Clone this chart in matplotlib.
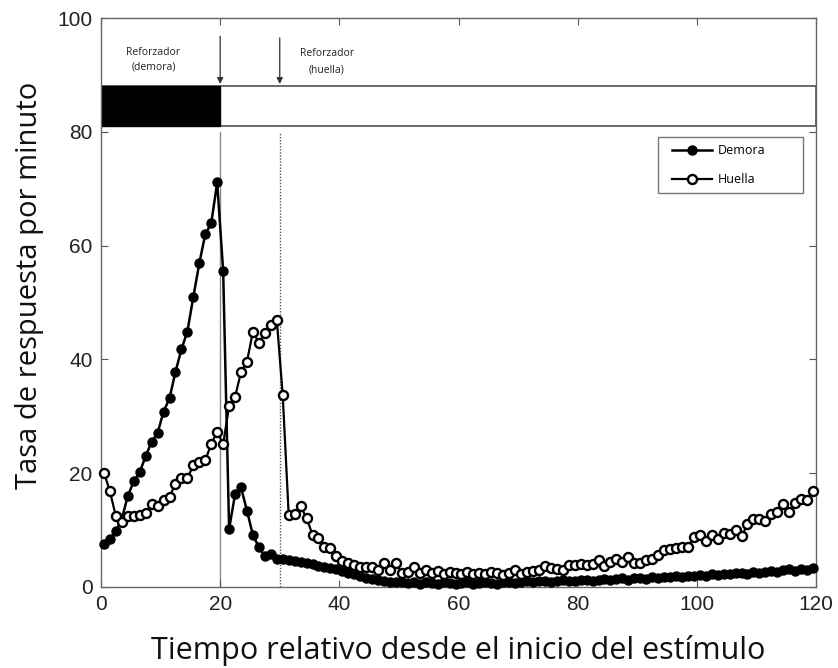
import matplotlib
matplotlib.use("Agg")
import matplotlib.pyplot as plt
from matplotlib.patches import Rectangle
import numpy as np

# Time bins (s) relative to stimulus onset
tiempo = np.arange(0.5, 120, 1.0)

# Response rate (responses / min), delay conditioning
demora = [
    7.5, 8.5, 9.8, 12.0, 16.0, 18.6, 20.2, 23.0, 25.5, 27.1,
    30.8, 33.2, 37.8, 41.8, 44.9, 51.0, 56.9, 62.0, 63.9, 71.1,
    55.6, 10.2, 16.3, 17.5, 13.4, 9.1, 7.0, 5.4, 5.8, 4.9,
    4.9, 4.7, 4.6, 4.4, 4.2, 4.0, 3.7, 3.5, 3.3, 3.1,
    2.8, 2.5, 2.2, 1.9, 1.6, 1.4, 1.2, 1.0, 0.9, 0.8,
    0.8, 0.7, 0.9, 0.6, 0.8, 0.7, 0.6, 0.8, 0.7, 0.6,
    0.7, 0.8, 0.6, 0.7, 0.9, 0.7, 0.6, 0.8, 0.9, 0.7,
    0.9, 1.0, 0.8, 1.0, 1.1, 0.9, 1.0, 1.2, 1.1, 1.0,
    1.2, 1.3, 1.1, 1.3, 1.4, 1.2, 1.4, 1.5, 1.3, 1.5,
    1.6, 1.4, 1.7, 1.6, 1.8, 1.7, 1.9, 1.8, 2.0, 1.9,
    2.1, 2.0, 2.2, 2.1, 2.3, 2.2, 2.4, 2.5, 2.3, 2.6,
    2.5, 2.7, 2.8, 2.6, 2.9, 3.1, 2.8, 3.2, 3.0, 3.3,
]

# Response rate (responses / min), trace conditioning
huella = [
    20.1, 16.8, 12.4, 11.5, 12.4, 12.4, 12.7, 13.0, 14.6, 14.2,
    15.3, 15.9, 18.1, 19.1, 19.1, 21.4, 22.0, 22.3, 25.1, 27.3,
    25.1, 31.8, 33.4, 37.8, 39.6, 44.9, 42.9, 44.7, 46.0, 47.0,
    33.7, 12.7, 12.8, 14.2, 12.1, 9.2, 8.6, 7.0, 6.8, 5.4,
    4.6, 4.2, 3.9, 3.6, 3.6, 3.5, 3.0, 4.3, 3.0, 4.3,
    2.4, 2.7, 3.5, 2.4, 3.0, 2.4, 2.8, 2.3, 2.6, 2.5,
    2.2, 2.6, 2.3, 2.5, 2.2, 2.6, 2.4, 2.1, 2.5, 2.9,
    2.3, 2.6, 2.8, 3.0, 3.7, 3.4, 3.1, 2.9, 3.8, 3.8,
    4.1, 3.8, 4.1, 4.7, 3.7, 4.4, 5.0, 4.4, 5.3, 4.3,
    4.3, 4.7, 5.0, 5.6, 6.5, 6.6, 6.8, 7.1, 7.1, 8.7,
    9.1, 8.1, 9.1, 8.5, 9.5, 9.4, 10.0, 8.9, 11.0, 12.0,
    12.0, 11.6, 12.9, 13.2, 14.6, 13.2, 14.7, 15.4, 15.3, 16.9,
]

fin_demora = 20   # end of CS / US onset in delay conditioning
us_huella = 30    # US onset in trace conditioning
x_ticks = [0, 20, 40, 60, 80, 100, 120]
y_ticks = [0, 20, 40, 60, 80, 100]

W, H = 838, 668
fig = plt.figure(figsize=(W / 100, H / 100), dpi=100)
ax = fig.add_axes([101 / W, 1 - 587 / H, 715 / W, 569 / H])

ax.set_xlim(0, 120)
ax.set_ylim(0, 100)

# event markers
ax.plot([fin_demora, fin_demora], [0, 80], color="#8a8a8a", lw=1.0, zorder=1)
ax.plot([us_huella, us_huella], [0, 80], color="#555555", lw=1.0,
        ls=(0, (1, 1.2)), zorder=1)

# stimulus bar
ax.add_patch(Rectangle((0, 81), 120, 7, fill=False, ec="#444444", lw=1.1, zorder=2))
ax.add_patch(Rectangle((0, 81), fin_demora, 7, fc="black", ec="black", lw=1.0, zorder=2))

arrow = dict(arrowstyle="-|>", color="#333333", lw=0.9, mutation_scale=9,
             shrinkA=0, shrinkB=0)
ax.annotate("", xy=(fin_demora, 88.4), xytext=(fin_demora, 96.8), arrowprops=arrow)
ax.annotate("", xy=(us_huella, 88.4), xytext=(us_huella, 96.5), arrowprops=arrow)

txt = dict(ha="center", va="center", fontsize=7.5, color="#222222", family="Open Sans")
ax.text(8.8, 94.0, "Reforzador", **txt)
ax.text(8.8, 91.4, "(demora)", **txt)
ax.text(37.9, 93.8, "Reforzador", **txt)
ax.text(37.9, 90.8, "(huella)", **txt)

l_dem, = ax.plot(tiempo, demora, "-o", color="black", lw=1.8, ms=6.5,
                 mec="black", mfc="black", clip_on=False, zorder=4, label="Demora")
l_hue, = ax.plot(tiempo, huella, "-o", color="black", lw=1.6, ms=6.5, mew=1.7,
                 mec="black", mfc="white", clip_on=False, zorder=5, label="Huella")

ax.set_xticks(x_ticks)
ax.set_yticks(y_ticks)
ax.tick_params(direction="in", top=True, right=True, length=5, width=0.8,
               color="#555555", labelcolor="#222222", labelsize=15, pad=6)
for lab in ax.get_xticklabels() + ax.get_yticklabels():
    lab.set_family("Liberation Sans")
for s in ax.spines.values():
    s.set_color("#666666")
    s.set_linewidth(1.0)

# legend: frame drawn separately so it can be wider than its entries
ax.add_patch(Rectangle((0.779, 0.692), 0.203, 0.099, transform=ax.transAxes,
                       fc="white", ec="#777777", lw=1.0, zorder=6))
leg = ax.legend(handles=[l_dem, l_hue], loc="center left",
                bbox_to_anchor=(0.7986, 0.7415), frameon=False,
                borderpad=0, borderaxespad=0, handlelength=3.2,
                handletextpad=0.5, labelspacing=1.25,
                prop={"family": "Open Sans", "size": 9})
leg.set_zorder(7)

fig.text(458 / W, 1 - 650 / H, "Tiempo relativo desde el inicio del estímulo",
         ha="center", va="center", fontsize=22, family="Open Sans", color="#111111")
fig.text(30 / W, 1 - 285 / H, "Tasa de respuesta por minuto", rotation=90,
         ha="center", va="center", fontsize=21, family="Open Sans", color="#111111")

fig.savefig("out.png", dpi=100)
